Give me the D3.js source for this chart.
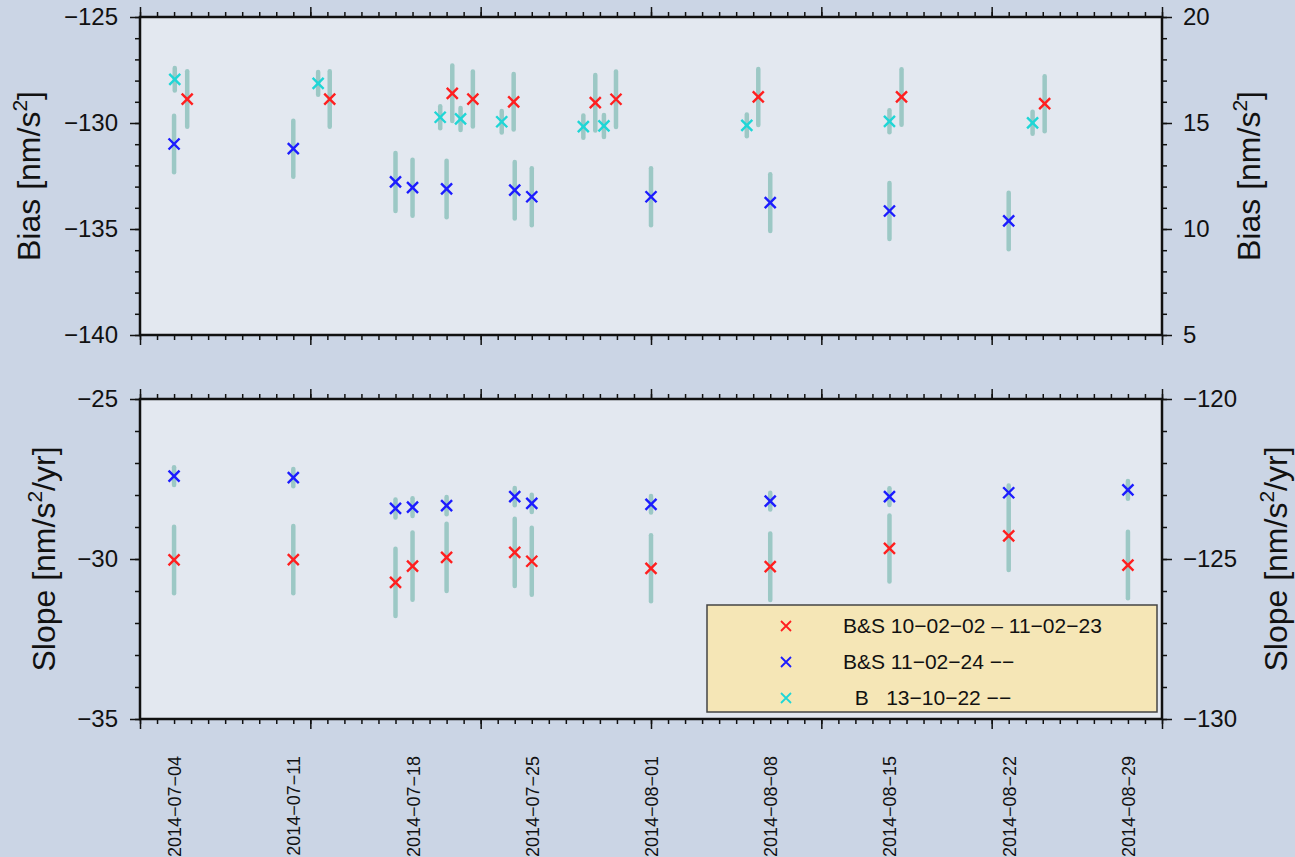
<!DOCTYPE html>
<html>
<head>
<meta charset="utf-8">
<script src="https://cdn.jsdelivr.net/npm/d3@7"></script>
<style>
body { margin: 0; background: #cbd5e5; }
svg { display: block; font-family: "Liberation Sans", Arial, Helvetica, sans-serif; }
</style>
</head>
<body>
<svg id="chart" width="1295" height="857"></svg>
<script>
// x axis: time range, labelled dates, long ticks
const xDomain = ["2014-07-02", "2014-08-31"];
const xLabelDates = ["2014-07-04", "2014-07-11", "2014-07-18", "2014-07-25", "2014-08-01",
	"2014-08-08", "2014-08-15", "2014-08-22", "2014-08-29"];
const xMajorDates = ["2014-07-02", "2014-07-12", "2014-07-22", "2014-08-01", "2014-08-11", "2014-08-21", "2014-08-31"];

// y ticks
const biasLeftTicks = [-140, -135, -130, -125];
const biasRightTicks = [5, 10, 15, 20];
const slopeLeftTicks = [-35, -30, -25];
const slopeRightTicks = [-130, -125, -120];

// Bias panel
const biasRedTimes = ["2014-07-04T18:30", "2014-07-13T03:20", "2014-07-20T08:00", "2014-07-21T13:00", "2014-07-23T22:30",
	"2014-07-28T17:30", "2014-07-29T22:40", "2014-08-07T07:10", "2014-08-15T17:00", "2014-08-24T02:40"];
const biasRed = [-128.87, -128.87, -128.60, -128.87, -129.00, -129.04, -128.88, -128.77, -128.77, -129.09];
const biasRedErr = [1.31, 1.31, 1.31, 1.30, 1.31, 1.31, 1.31, 1.32, 1.31, 1.30];

const biasBlueTimes = ["2014-07-04T00:00", "2014-07-11T00:00", "2014-07-17T00:00", "2014-07-18T00:00", "2014-07-20T00:00",
	"2014-07-24T00:00", "2014-07-25T00:00", "2014-08-01T00:00", "2014-08-08T00:00", "2014-08-15T00:00", "2014-08-22T00:00"];
const biasBlue = [-130.99, -131.21, -132.78, -133.05, -133.11, -133.17, -133.48, -133.48, -133.76, -134.15, -134.62];
const biasBlueErr = [1.33, 1.32, 1.37, 1.32, 1.33, 1.33, 1.34, 1.34, 1.34, 1.32, 1.33];

const biasCyanTimes = ["2014-07-04T01:00", "2014-07-12T11:00", "2014-07-19T15:00", "2014-07-20T19:40", "2014-07-23T05:40",
	"2014-07-28T00:40", "2014-07-29T05:40", "2014-08-06T15:00", "2014-08-15T00:00", "2014-08-23T09:40"];
const biasCyan = [-127.94, -128.13, -129.73, -129.81, -129.94, -130.17, -130.14, -130.11, -129.92, -129.99];
const biasCyanErr = [0.53, 0.54, 0.52, 0.52, 0.51, 0.52, 0.52, 0.51, 0.52, 0.52];

// Slope panel
const slopeTimes = ["2014-07-04", "2014-07-11", "2014-07-17", "2014-07-18", "2014-07-20", "2014-07-24",
	"2014-07-25", "2014-08-01", "2014-08-08", "2014-08-15", "2014-08-22", "2014-08-29"];
const slopeRed = [-30.03, -30.02, -30.73, -30.22, -29.95, -29.79, -30.07, -30.29, -30.24, -29.67, -29.28, -30.19];
const slopeRedErr = [1.04, 1.05, 1.05, 1.05, 1.05, 1.05, 1.05, 1.03, 1.04, 1.03, 1.06, 1.04];
const slopeBlue = [-27.41, -27.46, -28.42, -28.38, -28.33, -28.05, -28.26, -28.29, -28.19, -28.05, -27.93, -27.84];
const slopeBlueErr = [0.28, 0.27, 0.28, 0.28, 0.27, 0.27, 0.27, 0.26, 0.26, 0.26, 0.23, 0.28];

const legendLabels = ["B&S 10\u221202\u221202 \u2013 11\u221202\u221223", "B&S 11\u221202\u221224 \u2212\u2212", "  B   13\u221210\u221222 \u2212\u2212"];
const colors = {red: "#ff1f1f", blue: "#1c1cff", cyan: "#1fd6d6"};

const parseT = s => d3.utcParse(s.length > 10 ? "%Y-%m-%dT%H:%M" : "%Y-%m-%d")(s);
const zip = (times, vals, errs, color) => times.map((t, i) => ({t: parseT(t), v: vals[i], e: errs[i], color}));

const svg = d3.select("#chart");
const X0 = 140, X1 = 1162;
const x = d3.scaleUtc().domain(xDomain.map(parseT)).range([X0, X1]);
const dayTicks = d3.utcDay.range(x.domain()[0], d3.utcDay.offset(x.domain()[1], 1));
const fmt = d3.format("d");

const panels = [
	{top: 17, bottom: 335, left: [-140, -125], right: [5, 20], leftTicks: biasLeftTicks, rightTicks: biasRightTicks,
		title: ["Bias [nm/s", "]"], titleL: 40, titleR: 1260,
		series: [zip(biasBlueTimes, biasBlue, biasBlueErr, colors.blue),
			zip(biasRedTimes, biasRed, biasRedErr, colors.red),
			zip(biasCyanTimes, biasCyan, biasCyanErr, colors.cyan)]},
	{top: 399, bottom: 719, left: [-35, -25], right: [-130, -120], leftTicks: slopeLeftTicks, rightTicks: slopeRightTicks,
		title: ["Slope [nm/s", "/yr]"], titleL: 55, titleR: 1287,
		series: [zip(slopeTimes, slopeRed, slopeRedErr, colors.red),
			zip(slopeTimes, slopeBlue, slopeBlueErr, colors.blue)]}
];

function crossPath(cx, cy, r) {
	return `M${cx - r},${cy - r}L${cx + r},${cy + r}M${cx - r},${cy + r}L${cx + r},${cy - r}`;
}

function styleAxis(g) {
	g.select(".domain").remove();
	g.selectAll("line").attr("stroke", "#111").attr("stroke-width", 1.5);
	g.selectAll("text").attr("font-family", null).attr("font-size", 24).attr("fill", "#111");
}

function addTitle(xPos, yMid, parts) {
	const t = svg.append("text")
		.attr("transform", `translate(${xPos},${yMid}) rotate(-90)`)
		.attr("text-anchor", "middle")
		.attr("font-size", 32)
		.attr("fill", "#111");
	t.append("tspan").text(parts[0]);
	t.append("tspan").attr("dy", -13).attr("font-size", 21).text("2");
	t.append("tspan").attr("dy", 13).text(parts[1]);
}

panels.forEach(p => {
	const yL = d3.scaleLinear().domain(p.left).range([p.bottom, p.top]);
	const yR = d3.scaleLinear().domain(p.right).range([p.bottom, p.top]);

	svg.append("rect")
		.attr("x", X0).attr("y", p.top)
		.attr("width", X1 - X0).attr("height", p.bottom - p.top)
		.attr("fill", "#e3e8f0");

	// left / right ticks
	svg.append("g").attr("transform", `translate(${X0},0)`)
		.call(d3.axisLeft(yL).tickValues(d3.range(p.left[0], p.left[1] + 1)).tickSize(5).tickFormat(""))
		.call(styleAxis);
	svg.append("g").attr("transform", `translate(${X0},0)`)
		.call(d3.axisLeft(yL).tickValues(p.leftTicks).tickSize(10).tickPadding(12).tickFormat(fmt))
		.call(styleAxis);
	svg.append("g").attr("transform", `translate(${X1},0)`)
		.call(d3.axisRight(yR).tickValues(d3.range(p.right[0], p.right[1] + 1)).tickSize(5).tickFormat(""))
		.call(styleAxis);
	svg.append("g").attr("transform", `translate(${X1},0)`)
		.call(d3.axisRight(yR).tickValues(p.rightTicks).tickSize(10).tickPadding(11).tickFormat(fmt))
		.call(styleAxis);

	// top / bottom ticks
	[[p.top, d3.axisTop], [p.bottom, d3.axisBottom]].forEach(([yy, ax]) => {
		svg.append("g").attr("transform", `translate(0,${yy})`)
			.call(ax(x).tickValues(dayTicks).tickSize(5).tickFormat(""))
			.call(styleAxis);
		svg.append("g").attr("transform", `translate(0,${yy})`)
			.call(ax(x).tickValues(xMajorDates.map(parseT)).tickSize(10).tickFormat(""))
			.call(styleAxis);
	});

	// error bars, then crosses
	const all = p.series.flat();
	svg.append("g").selectAll("line").data(all).join("line")
		.attr("x1", d => x(d.t)).attr("x2", d => x(d.t))
		.attr("y1", d => yL(d.v - d.e)).attr("y2", d => yL(d.v + d.e))
		.attr("stroke", "#9cc8c5").attr("stroke-width", 4.5).attr("stroke-linecap", "round");
	svg.append("g").selectAll("path").data(all).join("path")
		.attr("d", d => crossPath(x(d.t), yL(d.v), 5.5))
		.attr("stroke", d => d.color).attr("stroke-width", 2.4).attr("fill", "none");

	// frame
	svg.append("rect")
		.attr("x", X0).attr("y", p.top)
		.attr("width", X1 - X0).attr("height", p.bottom - p.top)
		.attr("fill", "none").attr("stroke", "#111").attr("stroke-width", 2.5);

	const mid = (p.top + p.bottom) / 2;
	addTitle(p.titleL, mid, p.title);
	addTitle(p.titleR, mid, p.title);
});

// date labels under the lower panel
const labelAxis = svg.append("g").attr("transform", "translate(0,719)")
	.call(d3.axisBottom(x).tickValues(xLabelDates.map(parseT)).tickSize(0)
		.tickFormat(d => d3.utcFormat("%Y-%m-%d")(d).replace(/-/g, "\u2212")));
labelAxis.select(".domain").remove();
labelAxis.selectAll("text")
	.attr("font-family", null).attr("font-size", 18).attr("fill", "#111")
	.attr("x", 0).attr("y", 0).attr("dy", "0.36em")
	.attr("text-anchor", "end")
	.attr("transform", "translate(0,37) rotate(-90)");

// legend
const legend = svg.append("g");
legend.append("rect")
	.attr("x", 707).attr("y", 605).attr("width", 450).attr("height", 107)
	.attr("fill", "#f5e6b6").attr("stroke", "#444").attr("stroke-width", 1.5);
const legendColors = [colors.red, colors.blue, colors.cyan];
legendLabels.forEach((lab, i) => {
	const cy = 626 + i * 36;
	legend.append("path")
		.attr("d", crossPath(786, cy, 5))
		.attr("stroke", legendColors[i]).attr("stroke-width", 1.8).attr("fill", "none");
	legend.append("text")
		.attr("x", 843).attr("y", cy + 7)
		.attr("font-size", 21).attr("fill", "#111")
		.style("white-space", "pre")
		.text(lab);
});
</script>
</body>
</html>
